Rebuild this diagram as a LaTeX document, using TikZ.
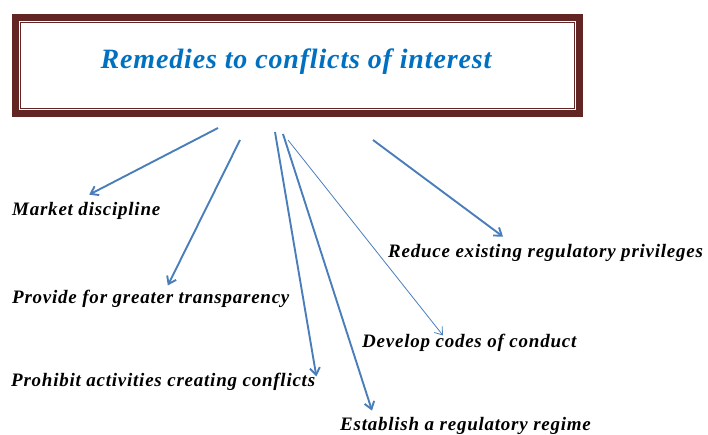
\documentclass[tikz,border=0pt]{standalone}
\usepackage{fontspec}
\setmainfont{Liberation Serif}
\usepackage{tikz}
\usetikzlibrary{arrows.meta,positioning}
\usepackage{xcolor}
\definecolor{boxmaroon}{HTML}{632523}
\definecolor{titleblue}{HTML}{0070C0}
\definecolor{linkblue}{HTML}{4A7EBB}

\begin{document}
\begin{tikzpicture}[x=1pt,y=-1pt,
	remedy/.style={font=\bfseries\itshape\fontsize{19}{22}\selectfont\addfontfeature{LetterSpace=4},inner sep=0pt,anchor=base west},
	link/.style={draw=linkblue,line width=1.9pt,-{Straight Barb[length=7pt,width=10pt]}}]
	\useasboundingbox (0,0) rectangle (708,434);

	% title box
	\node[draw=boxmaroon,line width=7pt,minimum width=564pt,minimum height=96pt,inner sep=0pt] (frame) at (297.5,65.5) {};
	\draw[boxmaroon,line width=1.3pt] ([shift={(6pt,-6pt)}]frame.north west) rectangle ([shift={(-6pt,6pt)}]frame.south east);
	\draw[boxmaroon,line width=0.9pt] ([shift={(8.6pt,-8.6pt)}]frame.north west) rectangle ([shift={(-8.6pt,8.6pt)}]frame.south east);
	\node[font=\bfseries\itshape\fontsize{28}{32}\selectfont\addfontfeature{LetterSpace=3},text=titleblue,anchor=base] (title) at (296,68) {Remedies to conflicts of interest};

	\begin{scope}[every node/.style={remedy}]
		\node (market) at (12,215) {Market discipline};
		\node (transp) at (12,303) {Provide for greater transparency};
		\node (prohib) at (11,386) {Prohibit activities creating conflicts};
		\node (regime) at (340,430) {Establish a regulatory regime};
		\node (codes) at (362,347) {Develop codes of conduct};
		\node (privil) at (388,257) {Reduce existing regulatory privileges};
	\end{scope}

	% start points under the title
	\coordinate (s1) at (218,128);
	\coordinate (s2) at (240,140);
	\coordinate (s3) at (275,132);
	\coordinate (s4) at (283,134);
	\coordinate (s5) at (288,140);
	\coordinate (s6) at (373,140);

	\begin{scope}
	\draw[link] (s1) -- ([shift={(3pt,7pt)}]market.north);
	\draw[link] (s2) -- ([shift={(17pt,4pt)}]transp.north);
	\draw[link] (s3) -- ([shift={(1pt,-4pt)}]prohib.north east);
	\draw[link] (s4) -- ([shift={(32pt,6pt)}]regime.north west);
	\draw[link,line width=0.8pt] (s5) -- ([shift={(81pt,-2pt)}]codes.north west);
	\draw[link] (s6) -- ([shift={(115pt,7pt)}]privil.north west);
	\end{scope}
\end{tikzpicture}
\end{document}
